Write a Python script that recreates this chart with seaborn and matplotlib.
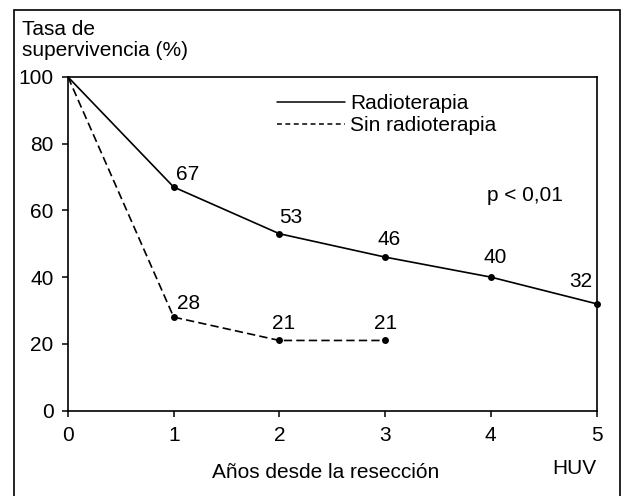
import matplotlib
matplotlib.use("Agg")
import matplotlib.pyplot as plt
from matplotlib.lines import Line2D
from matplotlib.patches import Rectangle
import seaborn as sns
import pandas as pd

# data
years_radio = [0, 1, 2, 3, 4, 5]
surv_radio = [100, 67, 53, 46, 40, 32]
years_sin = [0, 1, 2, 3]
surv_sin = [100, 28, 21, 21]
x_ticks = [0, 1, 2, 3, 4, 5]
y_ticks = [0, 20, 40, 60, 80, 100]
series_names = ["Radioterapia", "Sin radioterapia"]

# label offsets (points) relative to each marker
off_radio = [None, (10, 9), (8, 12), (3, 13), (3, 14), (-11, 16)]
off_sin = [None, (11, 10), (3, 12), (0, 12.5)]

FS = 15
sns.set_style("ticks")
plt.rcParams["font.family"] = ["Liberation Sans", "DejaVu Sans"]
plt.rcParams["font.size"] = FS
plt.rcParams["text.color"] = "black"
plt.rcParams["axes.labelcolor"] = "black"
plt.rcParams["xtick.color"] = "black"
plt.rcParams["ytick.color"] = "black"

df_radio = pd.DataFrame({"x": years_radio, "y": surv_radio})
df_sin = pd.DataFrame({"x": years_sin, "y": surv_sin})

fig = plt.figure(figsize=(6.27, 4.96), dpi=100)
ax = fig.add_axes([68 / 627, 1 - 410.5 / 496, 528.5 / 627, 333.5 / 496])

# no dot at the common starting point (0, 100)
sns.lineplot(data=df_radio, x="x", y="y", ax=ax, color="black", lw=1.2,
             marker="o", markersize=5, markeredgewidth=0, clip_on=False,
             markevery=list(range(1, len(years_radio))))
sns.lineplot(data=df_sin, x="x", y="y", ax=ax, color="black", lw=1.2,
             linestyle=(0, (5, 2.5)), marker="o", markersize=5,
             markeredgewidth=0, clip_on=False,
             markevery=list(range(1, len(years_sin))))

for xs, ys, offs in [(years_radio, surv_radio, off_radio), (years_sin, surv_sin, off_sin)]:
    for xv, yv, o in zip(xs, ys, offs):
        if o is None:
            continue
        ax.annotate(str(yv), (xv, yv), xytext=o, textcoords="offset points",
                    ha="center", va="center", fontsize=FS, color="black")

ax.text(3.96, 64.6, "p < 0,01", ha="left", va="center", fontsize=FS, color="black")

ax.set_xlim(0, 5)
ax.set_ylim(0, 100)
ax.set_xticks(x_ticks)
ax.set_yticks(y_ticks)
ax.tick_params(axis="y", direction="out", length=4.5, width=1.1, pad=6, labelcolor="black")
ax.tick_params(axis="x", direction="out", length=4, width=1.1, pad=7, labelcolor="black")
for s in ax.spines.values():
    s.set_visible(True)
    s.set_linewidth(1.2)
    s.set_color("black")
ax.set_xlabel("")
ax.set_ylabel("")

handles = [Line2D([], [], color="black", lw=1.1),
           Line2D([], [], color="black", lw=1.1, linestyle=(0, (3.2, 2.3)))]
ax.legend(handles, series_names, loc="upper left", bbox_to_anchor=(0.3955, 0.948),
          frameon=False, borderpad=0, borderaxespad=0, handlelength=3.25,
          handletextpad=0.25, labelspacing=0.12, fontsize=FS, labelcolor="black")

fig.text(22 / 627, 1 - 20 / 496, "Tasa de\nsupervivencia (%)", ha="left", va="top",
         fontsize=FS, linespacing=1.15)
fig.text(326 / 627, 1 - 472 / 496, "Años desde la resección", ha="center", va="center",
         fontsize=FS)
fig.text(596 / 627, 1 - 469 / 496, "HUV", ha="right", va="center", fontsize=FS)

fig.add_artist(Rectangle((14 / 627, -0.05), 606 / 627, 1.05 - 10 / 496,
                         transform=fig.transFigure, fill=False, lw=1.2,
                         edgecolor="black", clip_on=False))

fig.savefig("out.png", dpi=100)
